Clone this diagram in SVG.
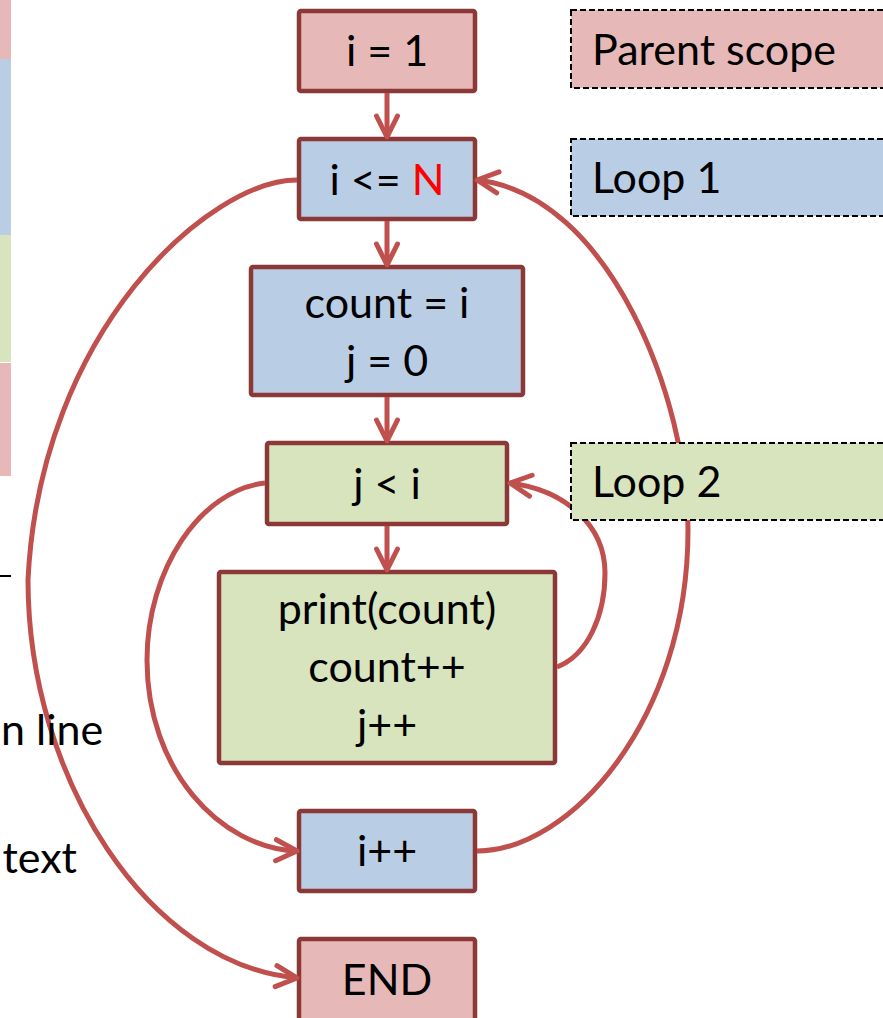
<svg xmlns="http://www.w3.org/2000/svg" width="883" height="1018" viewBox="0 0 883 1018">
  <style>
    .lbl { font-family: Lato, "Open Sans", "Liberation Sans", sans-serif; font-size: 43px; fill: #000; }
    .mid { text-anchor: middle; }
    .node { stroke: #8C3836; stroke-width: 4.5; }
    .pink { fill: #E6B9B8; }
    .blue { fill: #B9CDE5; }
    .green { fill: #D7E4BD; }
    .legend { stroke: #000; stroke-width: 2; stroke-dasharray: 6 3; }
    .edge { fill: none; stroke: #C0504D; stroke-width: 5; marker-end: url(#arrow); }
  </style>
  <defs>
    <marker id="arrow" markerUnits="userSpaceOnUse" viewBox="-26 -14 30 28" markerWidth="30" markerHeight="28" refX="0" refY="0" orient="auto">
      <path d="M-21,-10.5 L0,0 L-21,10.5" fill="none" stroke="#C0504D" stroke-width="5" stroke-linecap="round" stroke-linejoin="round"/>
    </marker>
  </defs>

  <rect width="883" height="1018" fill="#FFFFFF"/>

  <!-- colour strips along the left edge -->
  <g id="left-strips">
    <rect x="-5" y="0" width="16" height="59" class="pink"/>
    <rect x="-5" y="59" width="16" height="176" class="blue"/>
    <rect x="-5" y="235" width="16" height="127" class="green"/>
    <rect x="-5" y="363" width="16" height="113" class="pink"/>
    <line x1="0" y1="576" x2="11" y2="576" stroke="#000" stroke-width="2"/>
  </g>

  <!-- flowchart nodes -->
  <g id="n-init">
    <rect x="299" y="11" width="176" height="80" rx="2" class="node pink"/>
    <text x="387" y="66" class="lbl mid">i = 1</text>
  </g>
  <g id="n-cond1">
    <rect x="299" y="139" width="176" height="80" rx="2" class="node blue"/>
    <text x="387" y="195" class="lbl mid">i &lt;= <tspan fill="#FF0000">N</tspan></text>
  </g>
  <g id="n-body1">
    <rect x="251" y="267" width="272" height="128" rx="2" class="node blue"/>
    <text x="387" y="318" class="lbl mid">count = i</text>
    <text x="387" y="376" class="lbl mid">j = 0</text>
  </g>
  <g id="n-cond2">
    <rect x="267" y="443" width="240" height="81" rx="2" class="node green"/>
    <text x="387" y="499" class="lbl mid">j &lt; i</text>
  </g>
  <g id="n-body2">
    <rect x="219" y="572" width="336" height="191" rx="2" class="node green"/>
    <text x="387" y="624" class="lbl mid">print(count)</text>
    <text x="387" y="682" class="lbl mid">count++</text>
    <text x="387" y="740" class="lbl mid">j++</text>
  </g>
  <g id="n-incr">
    <rect x="299" y="811" width="176" height="80" rx="2" class="node blue"/>
    <text x="387" y="866" class="lbl mid">i++</text>
  </g>
  <g id="n-end">
    <rect x="299" y="939" width="176" height="82" rx="2" class="node pink"/>
    <text x="387" y="995" class="lbl mid">END</text>
  </g>

  <!-- connectors -->
  <g id="connectors">
    <path class="edge" d="M387,93 L387,137"/>
    <path class="edge" d="M387,221 L387,265"/>
    <path class="edge" d="M387,397 L387,441"/>
    <path class="edge" d="M387,526 L387,570"/>
    <!-- inner loop back edge -->
    <path class="edge" d="M557,667 C588,655 605,615 605,573 C605,525 565,490 510,483"/>
    <!-- inner loop exit -->
    <path class="edge" d="M265,483 C200,490 147,570 147,660 C147,770 220,848 297,851"/>
    <!-- outer loop back edge -->
    <path class="edge" d="M477,851 C570,851 688,720 688,530 C688,400 610,195 477,180"/>
    <!-- outer loop exit -->
    <path class="edge" d="M297,180 C210,180 40,330 28,580 C28,780 150,965 297,978"/>
  </g>

  <!-- scope legend -->
  <g id="legend-parent">
    <rect x="571" y="10" width="330" height="78" class="legend pink"/>
    <text x="592" y="65" class="lbl">Parent scope</text>
  </g>
  <g id="legend-loop1">
    <rect x="571" y="139" width="330" height="77" class="legend blue"/>
    <text x="592" y="193" class="lbl">Loop 1</text>
  </g>
  <g id="legend-loop2">
    <rect x="571" y="443" width="330" height="77" class="legend green"/>
    <text x="592" y="497" class="lbl">Loop 2</text>
  </g>

  <!-- partial text at the left margin -->
  <g id="margin-text">
    <text x="1" y="745" class="lbl">n line</text>
    <text x="77" y="873" class="lbl" text-anchor="end">text</text>
  </g>
</svg>
